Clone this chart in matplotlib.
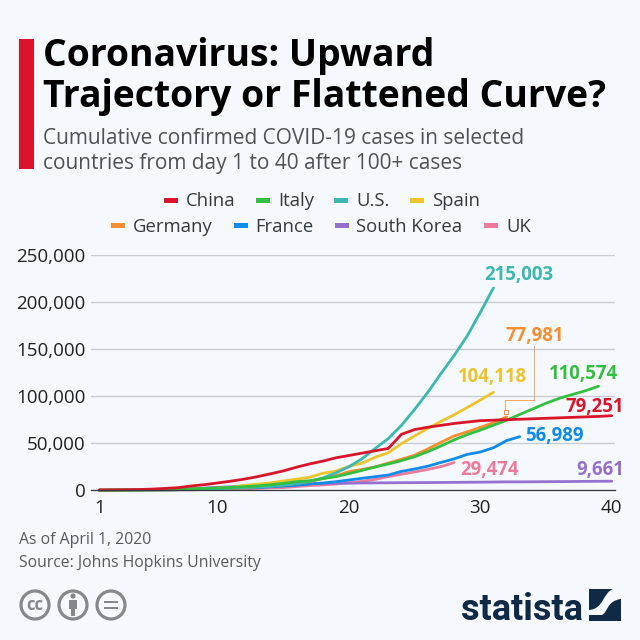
import matplotlib
matplotlib.use("Agg")
import matplotlib.pyplot as plt
from matplotlib.patches import Rectangle, Circle, PathPatch
from matplotlib.path import Path
from matplotlib import font_manager as fm

days_label = ["1", "10", "20", "30", "40"]
x_ticks = [1, 10, 20, 30, 40]
y_ticks = [0, 50000, 100000, 150000, 200000, 250000]

china = [300,440,570,830,1290,1980,2800,4600,6000,7800,9700,11800,14400,17400,20600,24500,28000,31000,34500,37000,39500,42000,44500,59500,64500,67000,69000,71000,72500,74000,74500,75000,75500,76000,76500,77000,77500,78000,78500,79251]
italy = [155,229,322,453,655,888,1128,1694,2036,2502,3089,3858,4636,5883,7375,9172,10149,12462,14500,17660,21157,24747,27980,31506,35713,41035,47021,53578,59138,63927,69176,74386,80589,86498,92472,97689,101739,105792,110574]
us = [118,149,217,262,402,518,583,959,1281,1663,2179,2727,3499,4200,5500,7000,9500,13000,18500,25000,33500,44500,55000,69000,86000,104000,124000,143000,164000,189000,215003]
spain = [120,165,222,259,400,500,673,1073,1695,2277,2900,5232,6391,7798,9942,11748,13910,17963,20410,25374,28768,35136,39885,49515,57786,65719,73235,80110,87956,95923,104118]
germany = [130,159,196,262,482,670,799,1040,1176,1457,1908,2078,3675,4585,5795,7272,9257,12327,15320,19848,22213,24873,29056,32986,37323,43938,50871,57695,62095,66885,71808,77981]
france = [100,130,191,204,288,380,656,959,1136,1219,1794,2293,2900,3681,4496,5300,6683,7715,9124,10970,12758,14463,16243,20123,22622,25600,29551,33402,38105,40708,45170,52827,56989]
korea = [104,204,433,602,833,977,1261,1766,2337,3150,3736,4335,5186,5621,6088,6593,7041,7314,7478,7513,7755,7869,7979,8086,8162,8236,8320,8413,8565,8652,8799,8961,8961,9037,9137,9241,9332,9478,9583,9661]
uk = [116,164,207,274,322,384,459,456,798,1140,1300,1543,1950,2626,2900,3983,5018,5683,6650,8077,9529,11658,14543,17089,19522,22141,25150,29474]

C = dict(China="#d9142b", Italy="#33bf3f", US="#3bb8b0", Spain="#edc42c", Germany="#f58e2f",
         France="#0f8bea", Korea="#9470cf", UK="#ec7b9b")
BG = "#f5f8fc"

plt.rcParams["font.family"] = ["Open Sans", "DejaVu Sans"]
fig = plt.figure(figsize=(6.4, 6.4), dpi=100, facecolor=BG)

# overlay in pixel coordinates for header, legend, labels and footer
ov = fig.add_axes([0, 0, 1, 1], zorder=5)
ov.set_xlim(0, 640); ov.set_ylim(640, 0); ov.axis("off"); ov.patch.set_alpha(0)

# chart axes
L, R, T, B = 91, 615, 255, 490.3
ax = fig.add_axes([L/640, 1-B/640, (R-L)/640, (B-T)/640], zorder=2)
ax.patch.set_alpha(0)
px_day = (611.7-99.3)/39
ax.set_xlim(1-(99.3-L)/px_day, 40+(R-611.7)/px_day)
ax.set_ylim(0, 250000)
for s in ax.spines.values():
    s.set_visible(False)
ax.spines["bottom"].set_visible(True)
ax.spines["bottom"].set_color("#333a40"); ax.spines["bottom"].set_linewidth(0.9)
ax.set_yticks(y_ticks); ax.set_yticklabels([f"{v:,}" for v in y_ticks], fontsize=13.5, color="#222222")
ax.set_xticks(x_ticks); ax.set_xticklabels(days_label, fontsize=13.5, color="#222222")
ax.tick_params(length=0, pad=4)
ax.tick_params(axis="x", pad=6)
ax.grid(axis="y", color="#c8cdd2", lw=1.0); ax.set_axisbelow(True)

series = [("UK", uk), ("Korea", korea), ("France", france), ("Germany", germany),
          ("Spain", spain), ("US", us), ("Italy", italy), ("China", china)]
for k, vals in series:
    ax.plot(range(1, len(vals)+1), vals, color=C[k], lw=2.0, clip_on=False,
            solid_capstyle="round", solid_joinstyle="round")

# header
ov.add_patch(Rectangle((19, 39), 15, 130, color="#d9142b", lw=0))
ov.text(43, 65.7, "Coronavirus: Upward", fontsize=26.9, fontweight="bold", color="#000000", va="baseline")
ov.text(43, 107, "Trajectory or Flattened Curve?", fontsize=26.9, fontweight="bold", color="#000000", va="baseline")
ov.text(43, 144, "Cumulative confirmed COVID-19 cases in selected", fontsize=15.05, color="#4d5359", va="baseline")
ov.text(43, 169.5, "countries from day 1 to 40 after 100+ cases", fontsize=15.05, color="#4d5359", va="baseline")

# legend
leg = [("China", "China", 164, 186, 200), ("Italy", "Italy", 256, 278, 200), ("US", "U.S.", 334, 356, 200),
       ("Spain", "Spain", 410, 432, 200), ("Germany", "Germany", 111, 133, 225), ("France", "France", 234, 255, 225),
       ("Korea", "South Korea", 335, 356, 225), ("UK", "UK", 484, 506, 225)]
for k, t, hx, tx, y in leg:
    ov.add_patch(Rectangle((hx, y-2.5), 14, 5, color=C[k], lw=0))
    ov.text(tx, y+6.5, t, fontsize=13.3, color="#333a40", va="baseline")

# value labels
labels = [("US", "215,003", 484, 280), ("Germany", "77,981", 505, 340.7), ("Spain", "104,118", 458, 382),
          ("Italy", "110,574", 549, 379), ("China", "79,251", 565, 412), ("France", "56,989", 525, 441),
          ("UK", "29,474", 460, 474.7), ("Korea", "9,661", 576, 474.7)]
for k, t, x, y in labels:
    ov.text(x, y, t, fontsize=13.4, fontweight="bold", color=C[k], va="baseline")

# connector of Germany label
ov.plot([505.3, 505.3, 533.7, 533.7], [409, 400, 400, 346], color=C["Germany"], lw=0.7, alpha=0.8)
ov.add_patch(Rectangle((503.5, 410), 4, 4, fc="none", ec=C["Germany"], lw=0.7))

# footer
ov.text(19, 544, "As of April 1, 2020", fontsize=11.35, color="#555b60", va="baseline")
ov.text(19, 566.7, "Source: Johns Hopkins University", fontsize=11.35, color="#555b60", va="baseline")

# cc icons
G = "#85898b"
for cx in (35, 73, 111):
    ov.add_patch(Circle((cx, 605), 14, fc="none", ec=G, lw=2.3))
ov.text(35, 604.5, "cc", fontsize=12, fontweight="bold", color=G, ha="center", va="center")
ov.add_patch(Circle((73, 596), 2.6, color=G, lw=0))
ov.add_patch(Rectangle((69, 600), 8, 9, color=G, lw=0))
ov.add_patch(Rectangle((71, 609), 4, 7, color=G, lw=0))
ov.add_patch(Rectangle((104, 600.5), 14, 2.8, color=G, lw=0))
ov.add_patch(Rectangle((104, 606.5), 14, 2.8, color=G, lw=0))

# statista logo
NAVY = "#0f2a47"
names = {f.name for f in fm.fontManager.ttflist}
fam = "Liberation Sans Narrow" if "Liberation Sans Narrow" in names else "Roboto"
ov.text(461, 620, "statista", fontsize=26, fontweight="bold", color=NAVY, family=fam, va="baseline")
ov.add_patch(Rectangle((589, 589), 32, 31.5, color=NAVY, lw=0))
swoosh = Path([(621, 589), (613.3, 589), (603, 592), (604, 609), (589, 610), (589, 615), (601.7, 615),
               (608, 613), (606, 601), (621, 599), (621, 589)],
              [Path.MOVETO, Path.LINETO, Path.CURVE4, Path.CURVE4, Path.CURVE4, Path.LINETO, Path.LINETO,
               Path.CURVE4, Path.CURVE4, Path.CURVE4, Path.CLOSEPOLY])
ov.add_patch(PathPatch(swoosh, fc=BG, ec="none"))

fig.savefig("out.png", dpi=100, facecolor=BG)
